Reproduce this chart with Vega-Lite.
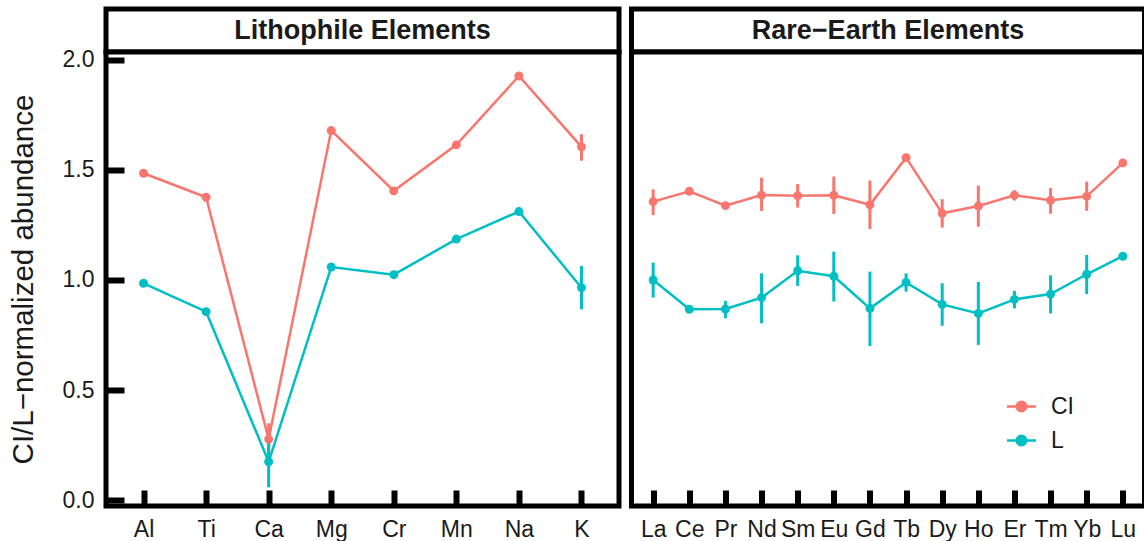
{
  "$schema": "https://vega.github.io/schema/vega-lite/v6.json",
  "padding": {"left": 5, "top": 6, "right": 0, "bottom": 0},
  "background": "white",
  "config": {
    "font": "Liberation Sans",
    "view": {"stroke": "black", "strokeWidth": 5, "fill": "white"},
    "axis": {
      "domain": false,
      "grid": false,
      "labelColor": "#1a1a1a",
      "labelFont": "Liberation Sans",
      "labelFontSize": 23,
      "titleColor": "#1a1a1a",
      "titleFont": "Liberation Sans",
      "titleFontSize": 29.5,
      "titleFontWeight": "normal",
      "tickColor": "black",
      "tickWidth": 6
    }
  },
  "datasets": {
    "litho": [
      {"element": "Al", "source": "CI", "value": 1.485, "lo": 1.485, "hi": 1.485},
      {"element": "Ti", "source": "CI", "value": 1.376, "lo": 1.376, "hi": 1.376},
      {"element": "Ca", "source": "CI", "value": 0.277, "lo": 0.205, "hi": 0.349},
      {"element": "Mg", "source": "CI", "value": 1.679, "lo": 1.679, "hi": 1.679},
      {"element": "Cr", "source": "CI", "value": 1.405, "lo": 1.405, "hi": 1.405},
      {"element": "Mn", "source": "CI", "value": 1.614, "lo": 1.614, "hi": 1.614},
      {"element": "Na", "source": "CI", "value": 1.927, "lo": 1.927, "hi": 1.927},
      {"element": "K", "source": "CI", "value": 1.605, "lo": 1.542, "hi": 1.662},
      {"element": "Al", "source": "L", "value": 0.985, "lo": 0.985, "hi": 0.985},
      {"element": "Ti", "source": "L", "value": 0.856, "lo": 0.856, "hi": 0.856},
      {"element": "Ca", "source": "L", "value": 0.174, "lo": 0.058, "hi": 0.265},
      {"element": "Mg", "source": "L", "value": 1.059, "lo": 1.059, "hi": 1.059},
      {"element": "Cr", "source": "L", "value": 1.024, "lo": 1.024, "hi": 1.024},
      {"element": "Mn", "source": "L", "value": 1.186, "lo": 1.186, "hi": 1.186},
      {"element": "Na", "source": "L", "value": 1.311, "lo": 1.3, "hi": 1.322},
      {"element": "K", "source": "L", "value": 0.965, "lo": 0.867, "hi": 1.064}
    ],
    "ree": [
      {"element": "La", "source": "CI", "value": 1.356, "lo": 1.295, "hi": 1.412},
      {"element": "Ce", "source": "CI", "value": 1.403, "lo": 1.403, "hi": 1.403},
      {"element": "Pr", "source": "CI", "value": 1.338, "lo": 1.323, "hi": 1.353},
      {"element": "Nd", "source": "CI", "value": 1.386, "lo": 1.314, "hi": 1.465},
      {"element": "Sm", "source": "CI", "value": 1.383, "lo": 1.329, "hi": 1.436},
      {"element": "Eu", "source": "CI", "value": 1.385, "lo": 1.3, "hi": 1.47},
      {"element": "Gd", "source": "CI", "value": 1.342, "lo": 1.232, "hi": 1.452},
      {"element": "Tb", "source": "CI", "value": 1.556, "lo": 1.541, "hi": 1.571},
      {"element": "Dy", "source": "CI", "value": 1.303, "lo": 1.238, "hi": 1.367},
      {"element": "Ho", "source": "CI", "value": 1.336, "lo": 1.242, "hi": 1.429},
      {"element": "Er", "source": "CI", "value": 1.385, "lo": 1.361, "hi": 1.408},
      {"element": "Tm", "source": "CI", "value": 1.362, "lo": 1.301, "hi": 1.418},
      {"element": "Yb", "source": "CI", "value": 1.38, "lo": 1.314, "hi": 1.447},
      {"element": "Lu", "source": "CI", "value": 1.532, "lo": 1.532, "hi": 1.532},
      {"element": "La", "source": "L", "value": 1.0, "lo": 0.92, "hi": 1.079},
      {"element": "Ce", "source": "L", "value": 0.867, "lo": 0.867, "hi": 0.867},
      {"element": "Pr", "source": "L", "value": 0.868, "lo": 0.826, "hi": 0.905},
      {"element": "Nd", "source": "L", "value": 0.92, "lo": 0.803, "hi": 1.03},
      {"element": "Sm", "source": "L", "value": 1.042, "lo": 0.973, "hi": 1.112},
      {"element": "Eu", "source": "L", "value": 1.017, "lo": 0.902, "hi": 1.129},
      {"element": "Gd", "source": "L", "value": 0.871, "lo": 0.7, "hi": 1.038},
      {"element": "Tb", "source": "L", "value": 0.989, "lo": 0.947, "hi": 1.03},
      {"element": "Dy", "source": "L", "value": 0.889, "lo": 0.792, "hi": 0.985},
      {"element": "Ho", "source": "L", "value": 0.848, "lo": 0.705, "hi": 0.991},
      {"element": "Er", "source": "L", "value": 0.912, "lo": 0.871, "hi": 0.951},
      {"element": "Tm", "source": "L", "value": 0.936, "lo": 0.848, "hi": 1.021},
      {"element": "Yb", "source": "L", "value": 1.026, "lo": 0.936, "hi": 1.114},
      {"element": "Lu", "source": "L", "value": 1.108, "lo": 1.108, "hi": 1.108}
    ]
  },
  "columns": 2,
  "spacing": {"row": 0, "column": 12.5},
  "bounds": "flush",
  "resolve": {"scale": {"x": "independent", "y": "independent", "color": "shared"}},
  "concat": [
    {
      "width": 513,
      "height": 43,
      "data": {"values": [{"label": "Lithophile Elements"}]},
      "layer": [
        {"mark": {"type": "rect", "fill": "white", "stroke": "black", "strokeWidth": 5}},
        {
          "mark": {"type": "text", "fontSize": 27, "fontWeight": "bold", "color": "#1a1a1a"},
          "encoding": {"text": {"field": "label"}}
        }
      ]
    },
    {
      "width": 513,
      "height": 43,
      "data": {"values": [{"label": "Rare−Earth Elements"}]},
      "layer": [
        {"mark": {"type": "rect", "fill": "white", "stroke": "black", "strokeWidth": 5}},
        {
          "mark": {"type": "text", "fontSize": 27, "fontWeight": "bold", "color": "#1a1a1a"},
          "encoding": {"text": {"field": "label"}}
        }
      ]
    },
    {
      "width": 513,
      "height": 454,
      "data": {"name": "litho"},
      "encoding": {
        "x": {
          "field": "element", "type": "nominal", "sort": null,
          "scale": {"type": "point", "padding": 0.6},
          "axis": {"title": null, "labelAngle": 0, "tickSize": -16, "labelPadding": 28}
        },
        "color": {
          "field": "source", "type": "nominal",
          "scale": {"domain": ["CI", "L"], "range": ["#F8766D", "#00BFC4"]},
          "legend": {
            "title": null, "orient": "none", "legendX": 904, "legendY": 386,
            "symbolType": "M-1.45,0L1.45,0M-0.47,0A0.47,0.47 0 1,0 0.47,0A0.47,0.47 0 1,0 -0.47,0Z",
            "symbolSize": 400, "symbolStrokeWidth": 2.5,
            "labelFontSize": 23, "labelOffset": 18, "labelColor": "#1a1a1a",
            "rowPadding": 10, "padding": 0,
            "encode": {"symbols": {"update": {
              "fill": {"scale": "color", "field": "value"},
              "stroke": {"scale": "color", "field": "value"},
              "opacity": {"value": 1}
            }}}
          }
        }
      },
      "layer": [
        {
          "mark": {"type": "line", "strokeWidth": 2.5},
          "encoding": {
            "y": {
              "field": "value", "type": "quantitative",
              "scale": {"domain": [-0.027, 2.036], "nice": false, "zero": false},
              "axis": {"title": "CI/L−normalized abundance", "values": [0, 0.5, 1, 1.5, 2], "format": ".1f", "tickSize": -18, "labelPadding": 30, "titlePadding": 24}
            }
          }
        },
        {
          "mark": {"type": "rule", "strokeWidth": 3},
          "encoding": {
            "y": {
              "field": "lo", "type": "quantitative",
              "axis": {"title": "CI/L−normalized abundance", "values": [0, 0.5, 1, 1.5, 2], "format": ".1f", "tickSize": -18, "labelPadding": 30, "titlePadding": 24}
            },
            "y2": {"field": "hi"}
          }
        },
        {
          "mark": {"type": "point", "filled": true, "size": 80, "opacity": 1},
          "encoding": {
            "y": {
              "field": "value", "type": "quantitative",
              "axis": {"title": "CI/L−normalized abundance", "values": [0, 0.5, 1, 1.5, 2], "format": ".1f", "tickSize": -18, "labelPadding": 30, "titlePadding": 24}
            }
          }
        }
      ]
    },
    {
      "width": 513,
      "height": 454,
      "data": {"name": "ree"},
      "encoding": {
        "x": {
          "field": "element", "type": "nominal", "sort": null,
          "scale": {"type": "point", "padding": 0.6},
          "axis": {"title": null, "labelAngle": 0, "tickSize": -16, "labelPadding": 28}
        },
        "color": {
          "field": "source", "type": "nominal",
          "scale": {"domain": ["CI", "L"], "range": ["#F8766D", "#00BFC4"]},
          "legend": {
            "title": null, "orient": "none", "legendX": 904, "legendY": 386,
            "symbolType": "M-1.45,0L1.45,0M-0.47,0A0.47,0.47 0 1,0 0.47,0A0.47,0.47 0 1,0 -0.47,0Z",
            "symbolSize": 400, "symbolStrokeWidth": 2.5,
            "labelFontSize": 23, "labelOffset": 18, "labelColor": "#1a1a1a",
            "rowPadding": 10, "padding": 0,
            "encode": {"symbols": {"update": {
              "fill": {"scale": "color", "field": "value"},
              "stroke": {"scale": "color", "field": "value"},
              "opacity": {"value": 1}
            }}}
          }
        }
      },
      "layer": [
        {
          "mark": {"type": "line", "strokeWidth": 2.5},
          "encoding": {
            "y": {
              "field": "value", "type": "quantitative",
              "scale": {"domain": [-0.027, 2.036], "nice": false, "zero": false},
              "axis": null
            }
          }
        },
        {
          "mark": {"type": "rule", "strokeWidth": 3},
          "encoding": {
            "y": {"field": "lo", "type": "quantitative", "axis": null},
            "y2": {"field": "hi"}
          }
        },
        {
          "mark": {"type": "point", "filled": true, "size": 80, "opacity": 1},
          "encoding": {"y": {"field": "value", "type": "quantitative", "axis": null}}
        }
      ]
    }
  ]
}
